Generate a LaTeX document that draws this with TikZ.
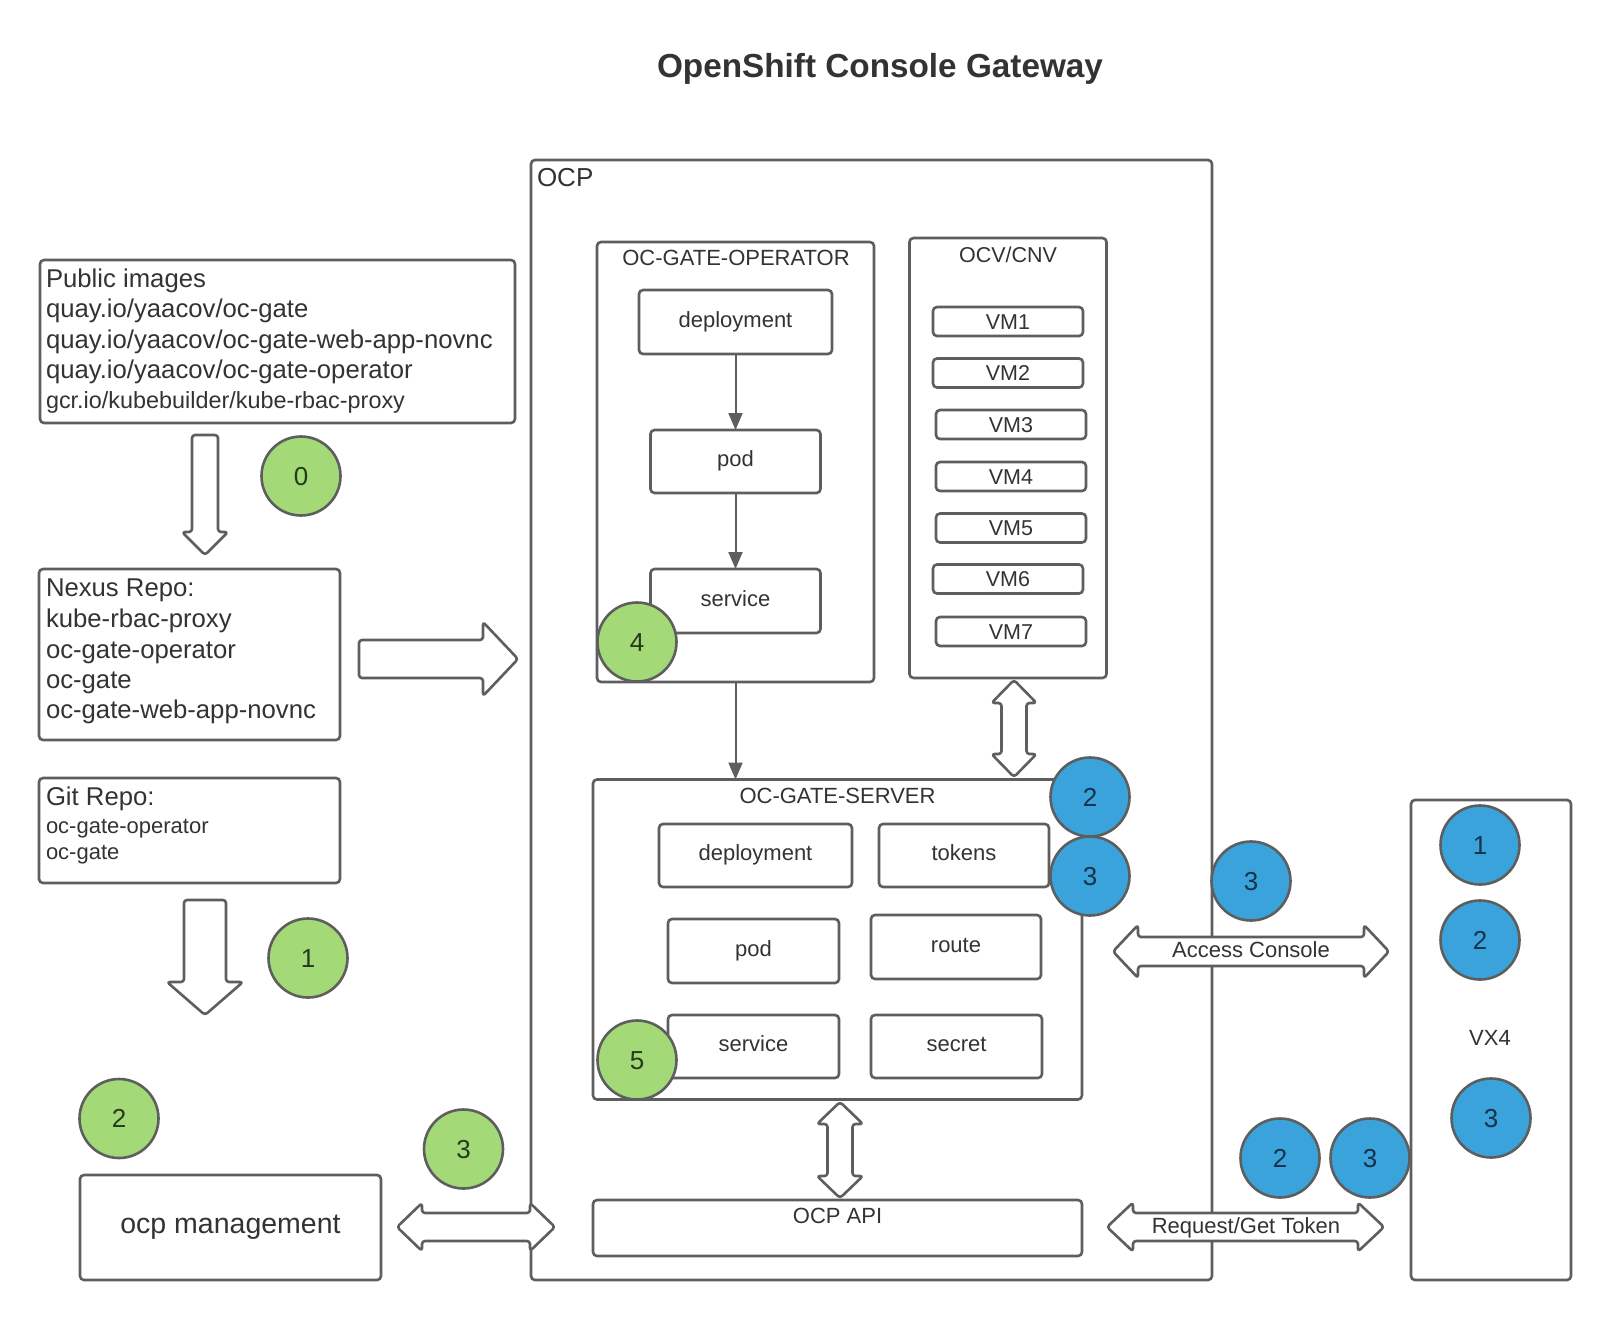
\documentclass[tikz,border=0pt]{standalone}
\usepackage{fontspec}
\setmainfont{Liberation Sans}
\usetikzlibrary{arrows.meta}
\definecolor{lc}{RGB}{94,94,94}
\definecolor{tc}{RGB}{51,51,51}
\definecolor{gfill}{RGB}{163,217,119}
\definecolor{bfill}{RGB}{58,163,220}
\definecolor{gtext}{RGB}{38,58,30}
\definecolor{btext}{RGB}{25,50,75}
\newcommand{\fsz}[2]{\fontsize{#1}{#2}\selectfont}
% horizontal double block arrow: y, x1, x2, shaft half, head half, head length
\newcommand{\hdarr}[6]{\draw[blk] (#2,#1) -- (#2+#6,#1-#5) -- (#2+#6,#1-#4) -- (#3-#6,#1-#4) -- (#3-#6,#1-#5) -- (#3,#1) -- (#3-#6,#1+#5) -- (#3-#6,#1+#4) -- (#2+#6,#1+#4) -- (#2+#6,#1+#5) -- cycle;}
% vertical double block arrow: x, y1, y2, shaft half, head half, head length
\newcommand{\vdarr}[6]{\draw[blk] (#1,#2) -- (#1+#5,#2+#6) -- (#1+#4,#2+#6) -- (#1+#4,#3-#6) -- (#1+#5,#3-#6) -- (#1,#3) -- (#1-#5,#3-#6) -- (#1-#4,#3-#6) -- (#1-#4,#2+#6) -- (#1-#5,#2+#6) -- cycle;}
% single down block arrow: x, ytop, ytip, shaft half, head half, head length
\newcommand{\sdarr}[6]{\draw[blk] (#1-#4,#2) -- (#1+#4,#2) -- (#1+#4,#3-#6) -- (#1+#5,#3-#6) -- (#1,#3) -- (#1-#5,#3-#6) -- (#1-#4,#3-#6) -- cycle;}
% single right block arrow: y, xleft, xtip, shaft half, head half, head length
\newcommand{\srarr}[6]{\draw[blk] (#2,#1-#4) -- (#3-#6,#1-#4) -- (#3-#6,#1-#5) -- (#3,#1) -- (#3-#6,#1+#5) -- (#3-#6,#1+#4) -- (#2,#1+#4) -- cycle;}

\begin{document}
\begin{tikzpicture}[x=1pt,y=-1pt,
  every node/.style={text=tc, inner sep=0pt, outer sep=0pt},
  box/.style={rectangle, draw=lc, line width=2.6pt, rounded corners=4pt, fill=white},
  ibox/.style={box, font=\fsz{22}{26}, text height=15pt, text depth=5pt},
  vmbox/.style={box, minimum width=150pt, minimum height=29pt, font=\fsz{21.5}{26}, text height=15.5pt, text depth=0pt},
  gc/.style={circle, draw=lc, line width=2.6pt, fill=gfill, minimum size=79pt, font=\fsz{26}{30}, text=gtext, text height=18.6pt, text depth=0pt},
  bc/.style={gc, fill=bfill, text=btext},
  conn/.style={draw=lc, line width=2pt, -{Triangle[length=17pt,width=14pt]}},
  blk/.style={draw=lc, line width=2.6pt, fill=white, rounded corners=3pt, line join=round},
  lbl/.style={font=\fsz{22}{26}, anchor=base},
  big/.style={font=\fsz{25.7}{30}, anchor=base west},
  sm/.style={font=\fsz{22}{26}, anchor=base west},
]
\fill[white] (0,0) rectangle (1612,1320);
\useasboundingbox (0,0) rectangle (1612,1320);

% title
\node[font={\fsz{33.3}{38}\bfseries}, anchor=base] (title) at (880,77) {OpenShift Console Gateway};

% OCP container
\node[box, minimum width=681pt, minimum height=1120pt] (ocp) at (871.5,720) {};
\node[anchor=base west, font=\fsz{26}{30}] (ocplbl) at (537,186) {OCP};

% Public images
\node[box, minimum width=475pt, minimum height=163pt] (pub) at (277.5,341.5) {};
\node[big] (pub1) at (46,287) {Public images};
\node[big] (pub2) at (46,317) {quay.io/yaacov/oc-gate};
\node[big] (pub3) at (46,348) {quay.io/yaacov/oc-gate-web-app-novnc};
\node[big] (pub4) at (46,378) {quay.io/yaacov/oc-gate-operator};
\node[big, font=\fsz{23.4}{28}] (pub5) at (46,408) {gcr.io/kubebuilder/kube-rbac-proxy};

% Nexus
\node[box, minimum width=301pt, minimum height=171pt] (nexus) at (189.5,654.5) {};
\node[big] (nx1) at (46,596) {Nexus Repo:};
\node[big] (nx2) at (46,627) {kube-rbac-proxy};
\node[big] (nx3) at (46,658) {oc-gate-operator};
\node[big] (nx4) at (46,688) {oc-gate};
\node[big] (nx5) at (46,718) {oc-gate-web-app-novnc};

% Git
\node[box, minimum width=301pt, minimum height=105pt] (git) at (189.5,830.5) {};
\node[big] (gt1) at (46,805) {Git Repo:};
\node[sm] (gt2) at (46,833) {oc-gate-operator};
\node[sm] (gt3) at (46,859) {oc-gate};

% ocp management
\node[box, minimum width=301pt, minimum height=105pt, font=\fsz{28.5}{32}, text height=19pt, text depth=8pt] (mgmt) at (230.5,1227.5) {ocp management};

% OC-GATE-OPERATOR
\node[box, minimum width=277pt, minimum height=440pt] (op) at (735.5,462) {};
\node[lbl] (oplbl) at (736,265) {OC-GATE-OPERATOR};
\node[ibox, minimum width=193pt, minimum height=64pt] (opdep) at (735.5,322) {deployment};
\node[ibox, minimum width=170pt, minimum height=63pt] (oppod) at (735.5,461.5) {pod};
\node[ibox, minimum width=170pt, minimum height=64pt] (opsvc) at (735.5,601) {service};

% OCV/CNV
\node[box, minimum width=197pt, minimum height=440pt] (ocv) at (1008,458) {};
\node[lbl, font=\fsz{21.5}{26}] (ocvlbl) at (1008,262) {OCV/CNV};
\node[vmbox] (vm1) at (1008,321.5) {VM1};
\node[vmbox] (vm2) at (1008,373) {VM2};
\node[vmbox] (vm3) at (1011,424.5) {VM3};
\node[vmbox] (vm4) at (1011,476.5) {VM4};
\node[vmbox] (vm5) at (1011,528) {VM5};
\node[vmbox] (vm6) at (1008,579) {VM6};
\node[vmbox] (vm7) at (1011,631.5) {VM7};

% OC-GATE-SERVER
\node[box, minimum width=489pt, minimum height=320pt] (server) at (837.5,939.5) {};
\node[lbl] (srvlbl) at (837.5,803) {OC-GATE-SERVER};
\node[ibox, minimum width=193pt, minimum height=63pt] (sdep) at (755.5,855.5) {deployment};
\node[ibox, minimum width=170pt, minimum height=63pt] (stok) at (964,855.5) {tokens};
\node[ibox, minimum width=171pt, minimum height=64pt] (spod) at (753.5,951) {pod};
\node[ibox, minimum width=170pt, minimum height=64pt] (sroute) at (956,947) {route};
\node[ibox, minimum width=171pt, minimum height=63pt] (ssvc) at (753.5,1046.5) {service};
\node[ibox, minimum width=171pt, minimum height=63pt] (ssec) at (956.5,1046.5) {secret};

% OCP API
\node[box, minimum width=489pt, minimum height=56pt] (api) at (837.5,1228) {};
\node[lbl] (apilbl) at (837.5,1223) {OCP API};

% VX4
\node[box, minimum width=160pt, minimum height=480pt] (vx4) at (1491,1040) {};
\node[lbl] (vxlbl) at (1490,1045) {VX4};

% thin connectors
\draw[conn] (opdep.south) -- (oppod.north);
\draw[conn] (oppod.south) -- (opsvc.north);
\draw[conn] (op.south) -- (op.south |- server.north);

% block arrows
\sdarr{205}{435}{555}{13}{23}{23}
\srarr{659}{359}{518}{19}{37}{35}
\sdarr{205}{900}{1015}{21}{38}{33}
\vdarr{1014}{680}{777}{12.5}{22.5}{23}
\vdarr{840}{1102}{1198}{12.5}{23}{22}
\hdarr{1227}{397}{555}{14}{24}{25}
\hdarr{951.5}{1113}{1389}{14.5}{26.5}{25}
\hdarr{1227}{1107}{1384}{14}{24.5}{26}
\node[lbl] (acc) at (1251,957) {Access Console};
\node[lbl] (req) at (1246,1233) {Request/Get Token};

% green step circles
\node[gc] (g0) at (301,476) {0};
\node[gc] (g1) at (308,958) {1};
\node[gc] (g2) at (119,1118.5) {2};
\node[gc] (g3) at (463.5,1149) {3};
\node[gc] (g4) at (637,642) {4};
\node[gc] (g5) at (637,1060) {5};

% blue step circles
\node[bc] (bs2) at (1090,797) {2};
\node[bc] (bs3) at (1090,876) {3};
\node[bc] (bm3) at (1251,881) {3};
\node[bc] (bv1) at (1480,845) {1};
\node[bc] (bv2) at (1480,940) {2};
\node[bc] (bv3) at (1491,1118) {3};
\node[bc] (bb2) at (1280,1158) {2};
\node[bc] (bb3) at (1370,1158) {3};
\end{tikzpicture}
\end{document}
